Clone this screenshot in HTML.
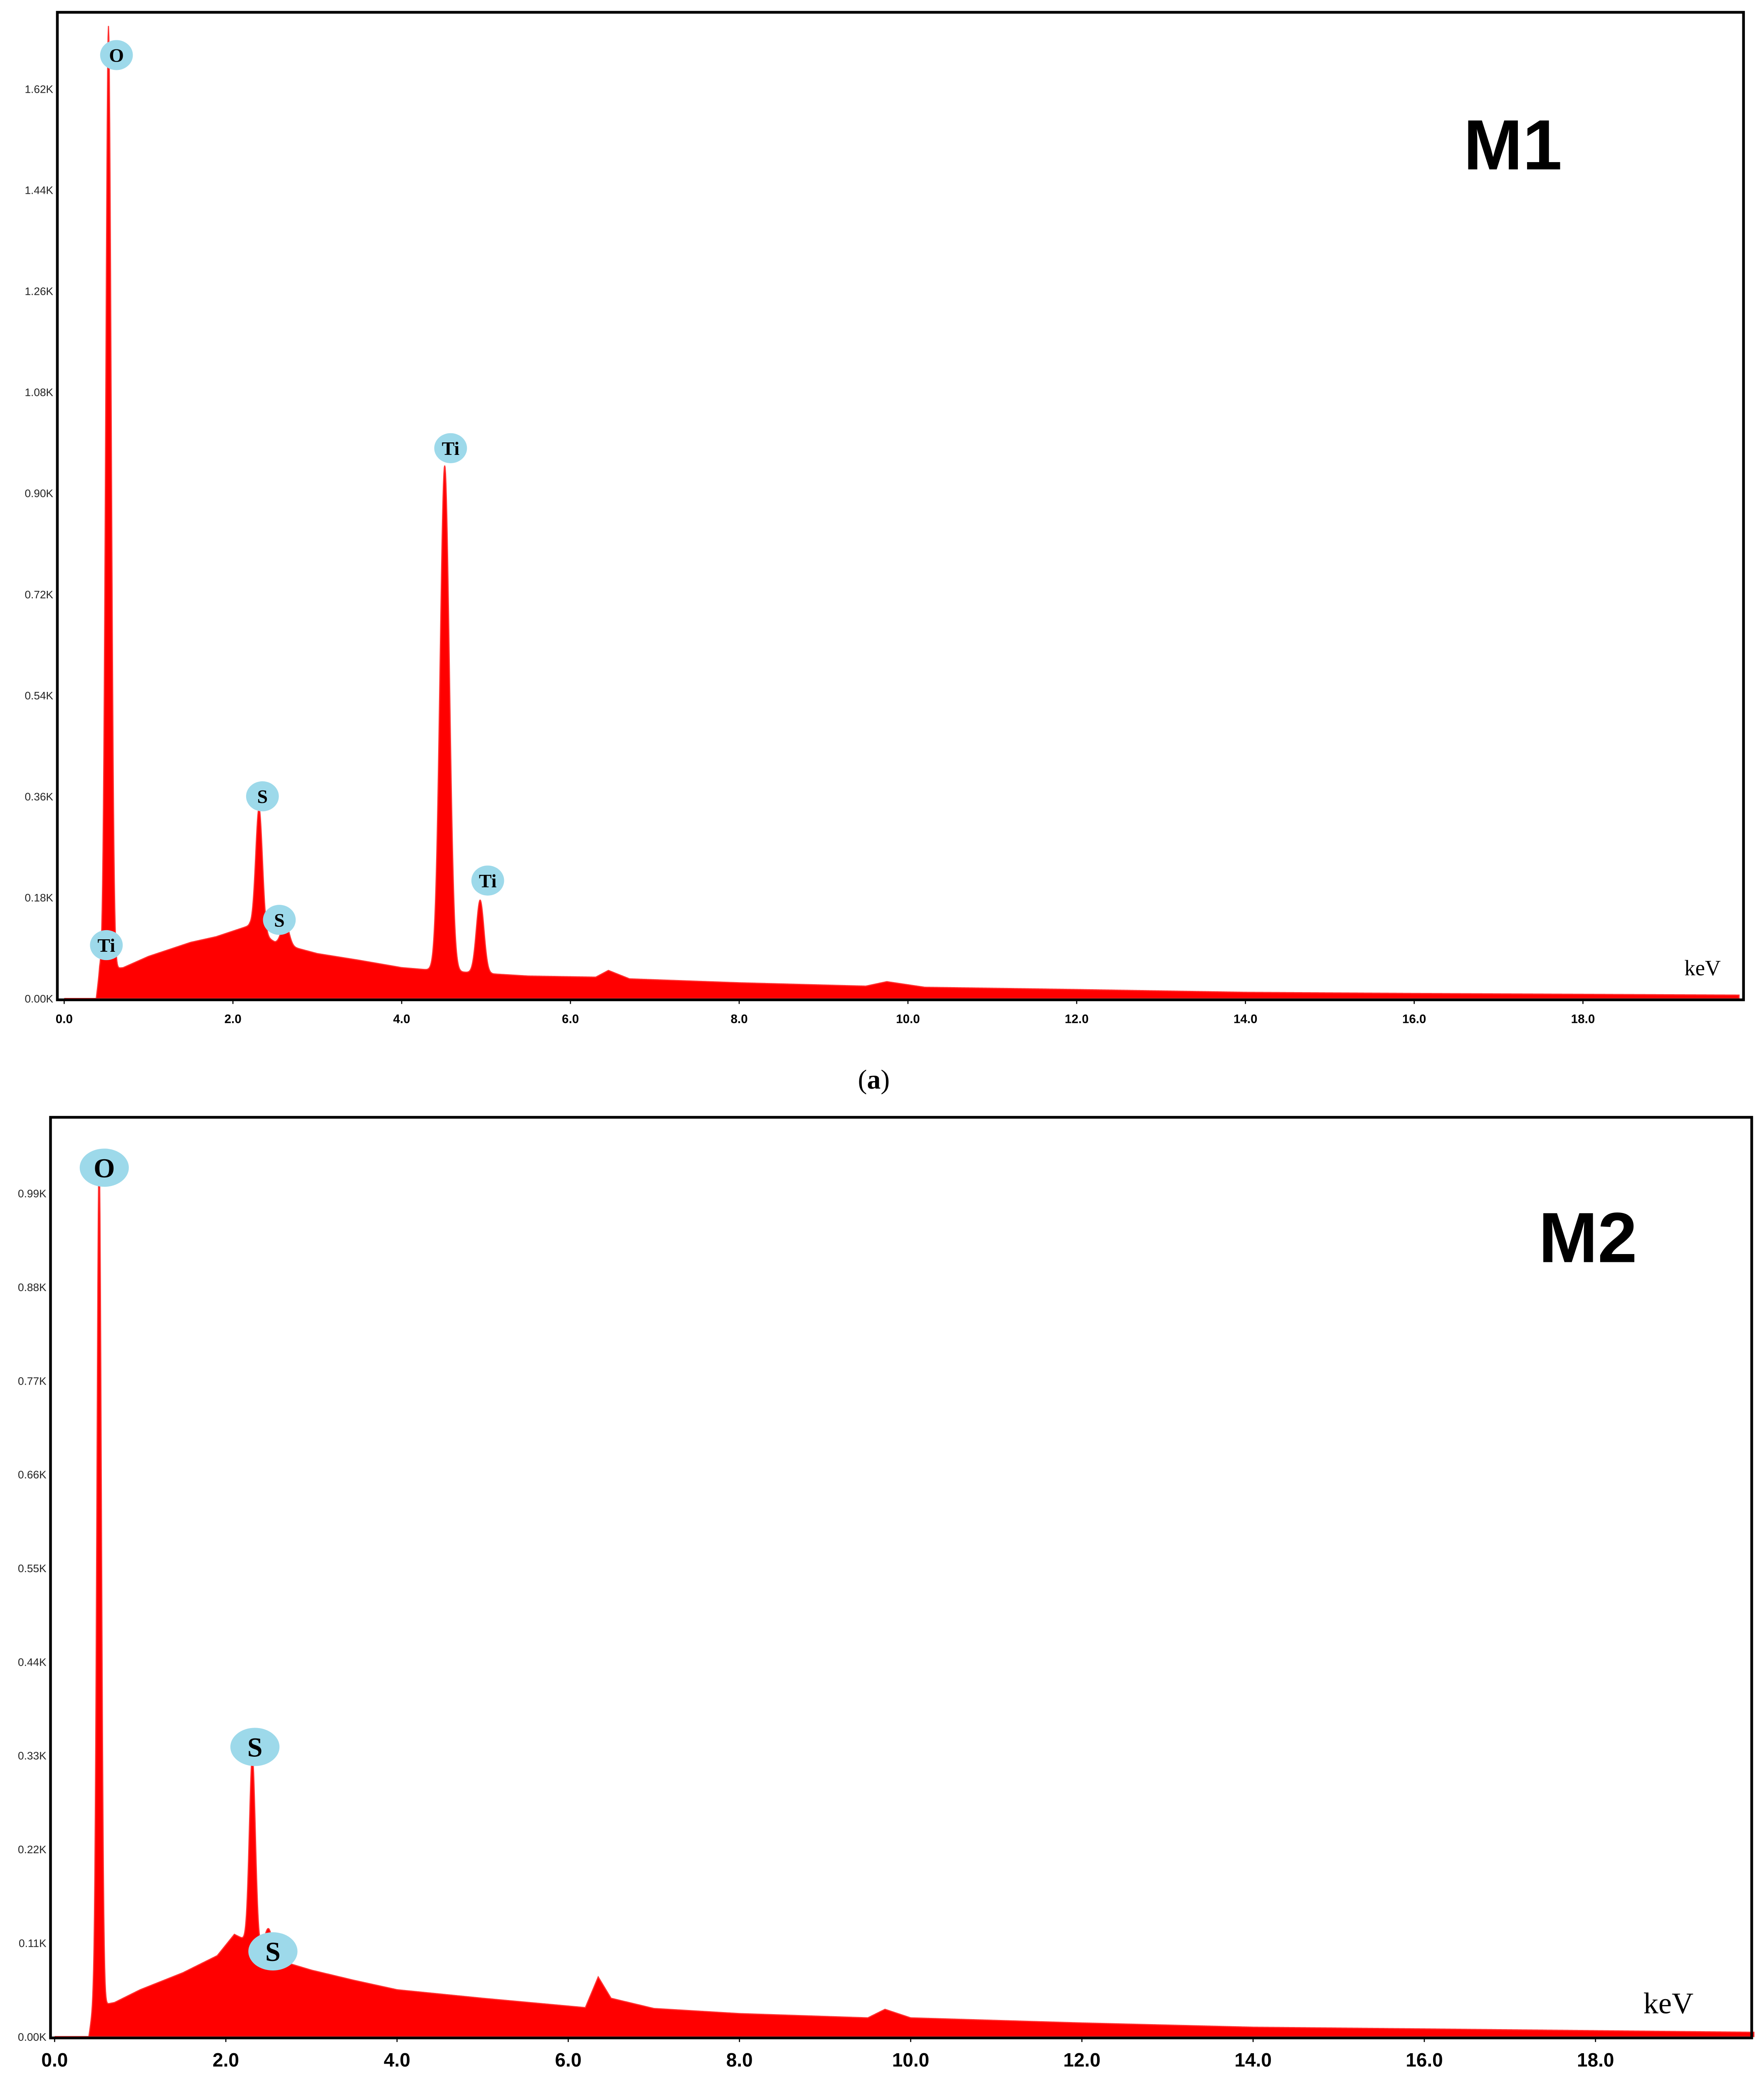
<!DOCTYPE html>
<html><head><meta charset="utf-8"><style>
html,body{margin:0;padding:0;background:#fff;overflow:hidden;width:4243px;height:5141px}
svg{display:block}
</style></head><body>
<svg id="fig" width="4243" height="5141" viewBox="0 0 1292 1565" preserveAspectRatio="none" xmlns="http://www.w3.org/2000/svg" font-family="Liberation Sans, sans-serif">
<g id="pa"></g>
<g id="pb"></g>
<text x="640" y="797" text-anchor="middle" font-family="Liberation Serif, serif" font-size="20">(<tspan font-weight="bold">a</tspan>)</text>
<text x="640" y="1553" text-anchor="middle" font-family="Liberation Serif, serif" font-size="20">(<tspan font-weight="bold">b</tspan>)</text>
</svg>
<script>
// ---- Panel A data ----
const aYTicks = [0,0.18,0.36,0.54,0.72,0.90,1.08,1.26,1.44,1.62];
const aYLabels = ["0.00K","0.18K","0.36K","0.54K","0.72K","0.90K","1.08K","1.26K","1.44K","1.62K"];
const aXTicks = [0,2,4,6,8,10,12,14,16,18];
const aXLabels = ["0.0","2.0","4.0","6.0","8.0","10.0","12.0","14.0","16.0","18.0"];
const aBgE = [0.3,0.38,0.42,0.7,1.0,1.5,1.8,2.0,2.2,2.5,3.0,3.5,4.0,4.4,5.5,6.3,6.45,6.7,8,9.5,9.75,10.2,12,14,16,19.9];
const aBgC = [0,0,0.05,0.055,0.075,0.1,0.11,0.12,0.13,0.1,0.08,0.068,0.055,0.05,0.04,0.038,0.05,0.035,0.028,0.022,0.03,0.02,0.016,0.011,0.009,0.006];
const aPeakE = [0.525,2.31,2.62,4.51,4.93];
const aPeakH = [1.68,0.22,0.04,0.9,0.13];
const aPeakW = [0.032,0.04,0.045,0.055,0.045];
const aLabelText = ["O","Ti","S","S","Ti","Ti"];
const aLabelE = [0.62,4.58,2.35,2.55,5.02,0.5];
const aLabelC = [1.68,0.98,0.36,0.14,0.21,0.095];

// ---- Panel B data ----
const bYTicks = [0,0.11,0.22,0.33,0.44,0.55,0.66,0.77,0.88,0.99];
const bYLabels = ["0.00K","0.11K","0.22K","0.33K","0.44K","0.55K","0.66K","0.77K","0.88K","0.99K"];
const bXTicks = [0,2,4,6,8,10,12,14,16,18];
const bXLabels = ["0.0","2.0","4.0","6.0","8.0","10.0","12.0","14.0","16.0","18.0"];
const bBgE = [0.3,0.4,0.45,0.7,1.0,1.5,1.9,2.1,2.3,2.6,3.0,3.5,4.0,5.0,6.2,6.35,6.5,7,8,9.5,9.7,10.0,12,14,16,19.9];
const bBgC = [0,0,0.035,0.04,0.055,0.075,0.095,0.12,0.11,0.09,0.078,0.066,0.055,0.045,0.034,0.07,0.045,0.033,0.027,0.022,0.032,0.022,0.016,0.011,0.009,0.005];
const bPeakE = [0.52,2.31,2.5];
const bPeakH = [1.0,0.22,0.03];
const bPeakW = [0.026,0.035,0.045];
const bLabelText = ["O","S","S"];
const bLabelE = [0.58,2.34,2.55];
const bLabelC = [1.02,0.34,0.1];

const NS="http://www.w3.org/2000/svg";
function mk(tag,attrs,parent){const e=document.createElementNS(NS,tag);for(const k in attrs)e.setAttribute(k,attrs[k]);parent.appendChild(e);return e;}

function interp(E,xs,ys){
  if(E<=xs[0])return ys[0];
  for(let i=1;i<xs.length;i++){if(E<=xs[i]){const t=(E-xs[i-1])/(xs[i]-xs[i-1]);return ys[i-1]+t*(ys[i]-ys[i-1]);}}
  return ys[ys.length-1];
}

function drawPanel(g,cfg){
  const xS=e=>cfg.x0+e*cfg.kx;
  const yS=c=>cfg.y0-c*cfg.ky;
  let d="M"+xS(0)+","+yS(0);
  for(let e=0;e<=cfg.emax+1e-9;e+=0.005){
    let c=interp(e,cfg.bgE,cfg.bgC);
    for(let i=0;i<cfg.pE.length;i++){const z=(e-cfg.pE[i])/cfg.pW[i];c+=cfg.pH[i]*Math.exp(-0.5*z*z);}
    d+="L"+xS(e).toFixed(2)+","+yS(c).toFixed(2);
  }
  d+="L"+xS(cfg.emax)+","+yS(0)+"Z";
  const sp=mk("path",{d:d,fill:"#ff0000",stroke:"#ff3030","stroke-width":"0.8"},g);
  
  
  const fr=mk("rect",{x:cfg.fx1,y:cfg.fy1,width:cfg.fx2-cfg.fx1,height:cfg.fy2-cfg.fy1,fill:"none",stroke:"#000","stroke-width":cfg.fw},g);
  
  
  cfg.yT.forEach((v,i)=>{
    const t=mk("text",{x:cfg.fx1-3,y:yS(v)+3,"text-anchor":"end","font-size":cfg.yfs,fill:"#222"},g);
    t.textContent=cfg.yL[i];
    
    
  });
  cfg.xT.forEach((v,i)=>{
    const tk=mk("line",{x1:xS(v),x2:xS(v),y1:cfg.fy2,y2:cfg.fy2+3,stroke:"#000","stroke-width":"0.8"},g);
    
    
    const t=mk("text",{x:xS(v),y:cfg.xly,"text-anchor":"middle","font-size":cfg.xfs,"font-weight":"bold"},g);
    t.textContent=cfg.xL[i];
    
    
  });
  cfg.lT.forEach((s,i)=>{
    const cx=xS(cfg.lE[i]),cy=yS(cfg.lC[i]);
    const el=mk("ellipse",{cx:cx,cy:cy,rx:cfg.lrx,ry:cfg.lry,fill:"#9dd9ea"},g);
    
    
    const t=mk("text",{x:cx,y:cy+cfg.lfs*0.35,"text-anchor":"middle","font-size":cfg.lfs,"font-family":"Liberation Serif, serif","font-weight":"bold"},g);
    t.textContent=s;
    
    
  });
  const k=mk("text",{x:cfg.kvx,y:cfg.kvy,"text-anchor":"middle","font-size":cfg.kvfs,"font-family":"Liberation Serif, serif"},g);
  k.textContent="keV";
  
  
  const m=mk("text",{x:cfg.mx,y:cfg.my,"text-anchor":"middle","font-size":cfg.mfs,"font-weight":"bold"},g);
  m.textContent=cfg.title;
  
  
}

drawPanel(document.getElementById('pa'),{
  x0:47,kx:61.8,y0:731,ky:74/0.18,emax:19.85,
  bgE:aBgE,bgC:aBgC,pE:aPeakE,pH:aPeakH,pW:aPeakW,
  fx1:42,fy1:9,fx2:1277,fy2:732,fw:2,
  yT:aYTicks,yL:aYLabels,yfs:8,xT:aXTicks,xL:aXLabels,xfs:9,xly:749,
  lT:aLabelText,lE:aLabelE,lC:aLabelC,lrx:12,lry:11,lfs:14,
  kvx:1247,kvy:714,kvfs:16,mx:1108,my:124,mfs:52,title:"M1"
});
drawPanel(document.getElementById('pb'),{
  x0:40,kx:62.7,y0:1491,ky:68.6/0.11,emax:19.85,
  bgE:bBgE,bgC:bBgC,pE:bPeakE,pH:bPeakH,pW:bPeakW,
  fx1:37,fy1:818,fx2:1283,fy2:1492,fw:2,
  yT:bYTicks,yL:bYLabels,yfs:8,xT:bXTicks,xL:bXLabels,xfs:14,xly:1513,
  lT:bLabelText,lE:bLabelE,lC:bLabelC,lrx:18,lry:14,lfs:20,
  kvx:1222,kvy:1474,kvfs:22,mx:1163,my:924,mfs:52,title:"M2"
});
</script>
</body></html>
